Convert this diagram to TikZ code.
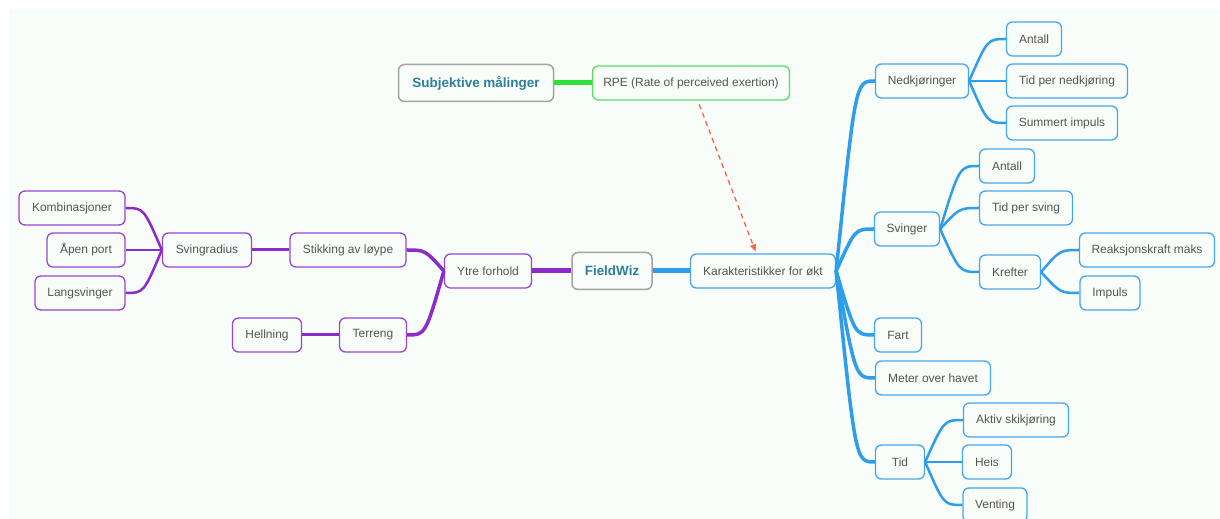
\documentclass[tikz,border=0pt]{standalone}
\usepackage{fontspec}
\setmainfont{Liberation Sans}
\usetikzlibrary{calc,arrows.meta}
\definecolor{bg}{HTML}{F8FDF9}
\definecolor{txt}{HTML}{555555}
\definecolor{rootblue}{HTML}{2F7E9C}
\definecolor{rootgray}{HTML}{A3A3A3}
\definecolor{purp}{HTML}{9A45D6}
\definecolor{purpline}{HTML}{8A2BCB}
\definecolor{blu}{HTML}{45A6EC}
\definecolor{bluline}{HTML}{2E9DEB}
\definecolor{grn}{HTML}{55E063}
\definecolor{grnline}{HTML}{2EE03E}
\definecolor{dashred}{HTML}{F0674A}
\newcommand{\mmlink}[3]{\draw[#1] (#2) .. controls ($(#2 |- #3)!0.5!(#3)$) .. (#3);}
\begin{document}
\begin{tikzpicture}[x=1bp,y=-1bp,font=\fontsize{12}{14}\selectfont,
  box/.style={draw,rounded corners=6bp,line width=1.3bp,fill=bg,text=txt,minimum height=34bp,inner xsep=0bp},
  w/.style={minimum width=#1bp},
  root/.style={box,draw=rootgray,line width=1.5bp,text=rootblue,minimum height=37bp,font=\fontsize{13.5}{16}\selectfont\bfseries},
  pbox/.style={box,draw=purp},
  bbox/.style={box,draw=blu},
  gbox/.style={box,draw=grn},
  pl/.style={draw=purpline,line width=#1bp},
  bl/.style={draw=bluline,line width=#1bp}]
\useasboundingbox (0,0) rectangle (1220,519);
\fill[bg] (9,9) rectangle (1220,519);
\node[root,w=155] (subj) at (476,83) {Subjektive målinger};
\node[gbox,w=197] (rpe) at (691,83) {RPE (Rate of perceived exertion)};
\node[root,w=80] (fw) at (612,271) {FieldWiz};
\node[pbox,w=87] (ytre) at (488,271) {Ytre forhold};
\node[bbox,w=145] (kar) at (763,271) {Karakteristikker for økt};
\node[pbox,w=116] (stikk) at (348,250) {Stikking av løype};
\node[pbox,w=67] (terr) at (373,335) {Terreng};
\node[pbox,w=69] (hell) at (267,335) {Hellning};
\node[pbox,w=89] (svrad) at (207,250) {Svingradius};
\node[pbox,w=106] (komb) at (72,208) {Kombinasjoner};
\node[pbox,w=78] (aapen) at (86,250) {Åpen port};
\node[pbox,w=90] (lang) at (80,293) {Langsvinger};
\node[bbox,w=93] (ned) at (922,81) {Nedkjøringer};
\node[bbox,w=55] (antN) at (1034,39) {Antall};
\node[bbox,w=121] (tidN) at (1067,81) {Tid per nedkjøring};
\node[bbox,w=111] (sum) at (1062,123) {Summert impuls};
\node[bbox,w=65] (svinger) at (907,229) {Svinger};
\node[bbox,w=55] (antS) at (1007,166) {Antall};
\node[bbox,w=93] (tidS) at (1026,208) {Tid per sving};
\node[bbox,w=61] (kref) at (1010,272) {Krefter};
\node[bbox,w=135] (reak) at (1147,250) {Reaksjonskraft maks};
\node[bbox,w=60] (imp) at (1110,293) {Impuls};
\node[bbox,w=47] (fart) at (898,335) {Fart};
\node[bbox,w=115] (moh) at (933,378) {Meter over havet};
\node[bbox,w=49] (tid) at (900,462) {Tid};
\node[bbox,w=105] (akt) at (1016,420) {Aktiv skikjøring};
\node[bbox,w=49] (heis) at (987,462) {Heis};
\node[bbox,w=64] (vent) at (995,505) {Venting};
\draw[grnline,line width=5bp] (subj) -- (rpe);
\draw[purpline,line width=5bp] (fw) -- (ytre);
\draw[bluline,line width=5bp] (fw) -- (kar);
\draw[dashred,line width=1.3bp,dash pattern=on 5bp off 4bp,-{Triangle[length=7bp,width=6bp]},shorten <=4bp,shorten >=2bp] (rpe) -- (kar);
\mmlink{pl=3.5}{ytre.west}{stikk.east}
\mmlink{pl=3.5}{ytre.west}{terr.east}
\mmlink{pl=3}{stikk.west}{svrad.east}
\mmlink{pl=3}{terr.west}{hell.east}
\mmlink{pl=2.5}{svrad.west}{komb.east}
\mmlink{pl=2.5}{svrad.west}{aapen.east}
\mmlink{pl=2.5}{svrad.west}{lang.east}
\mmlink{bl=3.5}{kar.east}{ned.west}
\mmlink{bl=3.5}{kar.east}{svinger.west}
\mmlink{bl=3.5}{kar.east}{fart.west}
\mmlink{bl=3.5}{kar.east}{moh.west}
\mmlink{bl=3.5}{kar.east}{tid.west}
\mmlink{bl=2.5}{ned.east}{antN.west}
\mmlink{bl=2.5}{ned.east}{tidN.west}
\mmlink{bl=2.5}{ned.east}{sum.west}
\mmlink{bl=2.5}{svinger.east}{antS.west}
\mmlink{bl=2.5}{svinger.east}{tidS.west}
\mmlink{bl=2.5}{svinger.east}{kref.west}
\mmlink{bl=2.5}{kref.east}{reak.west}
\mmlink{bl=2.5}{kref.east}{imp.west}
\mmlink{bl=2.5}{tid.east}{akt.west}
\mmlink{bl=2.5}{tid.east}{heis.west}
\mmlink{bl=2.5}{tid.east}{vent.west}
\end{tikzpicture}
\end{document}
